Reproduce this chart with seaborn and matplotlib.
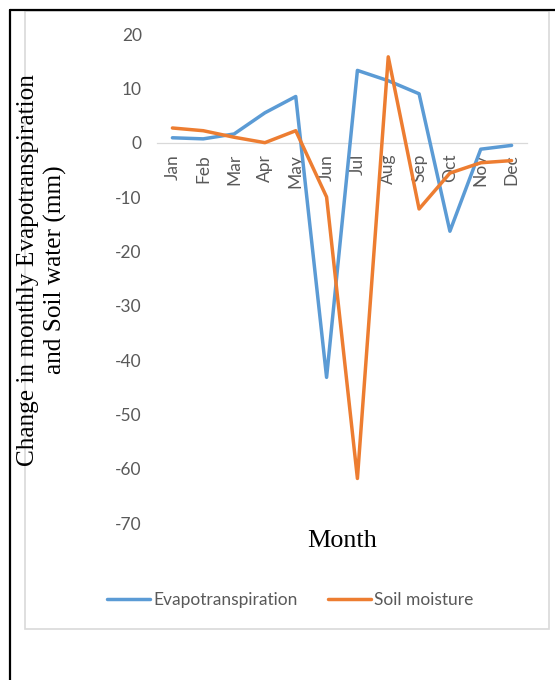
import matplotlib
matplotlib.use("Agg")
import matplotlib.pyplot as plt
from matplotlib.lines import Line2D
from matplotlib.patches import Rectangle
import pandas as pd
import seaborn as sns

months = ["Jan", "Feb", "Mar", "Apr", "May", "Jun",
          "Jul", "Aug", "Sep", "Oct", "Nov", "Dec"]
evapotranspiration = [0.9, 0.7, 1.6, 5.5, 8.5, -43.2,
                      13.3, 11.4, 9.0, -16.3, -1.2, -0.5]
soil_moisture = [2.7, 2.2, 1.0, 0.0, 2.2, -10.0,
                 -61.8, 15.8, -12.2, -5.6, -3.7, -3.3]
y_ticks = [20, 10, 0, -10, -20, -30, -40, -50, -60, -70]

series_names = ["Evapotranspiration", "Soil moisture"]
colors = {"Evapotranspiration": "#5B9BD5", "Soil moisture": "#ED7D31"}

df = pd.DataFrame({
    "Month": months * 2,
    "Value": evapotranspiration + soil_moisture,
    "Series": [series_names[0]] * len(months) + [series_names[1]] * len(months),
})

sns.set_style("white")
plt.rcParams["font.family"] = ["Lato", "DejaVu Sans"]

W, H = 555, 680
fig = plt.figure(figsize=(W / 100, H / 100), dpi=100)
ax = fig.add_axes([157 / W, 1 - 523 / H, (527 - 157) / W, (523 - 34) / H])

sns.lineplot(data=df, x="Month", y="Value", hue="Series", palette=colors,
             linewidth=2.5, sort=False, ax=ax, legend=False)

ax.set_xlim(-0.5, len(months) - 0.5)
ax.set_ylim(-70, 20)
ax.set_yticks(y_ticks)
ax.set_yticklabels([str(t) for t in y_ticks])
ax.set_xticks(range(len(months)))
ax.set_xticklabels(months)

for side in ["left", "right", "top"]:
    ax.spines[side].set_visible(False)
ax.spines["bottom"].set_position(("data", 0))
ax.spines["bottom"].set_color("#D9D9D9")
ax.spines["bottom"].set_linewidth(0.9)
ax.spines["bottom"].set_zorder(0.4)

ax.tick_params(axis="x", length=0, pad=8, labelsize=12.5, labelcolor="#595959",
               labelrotation=90)
ax.tick_params(axis="y", length=0, pad=11, labelsize=12.5, labelcolor="#595959")
ax.set_xlabel("")
ax.set_ylabel("")
ax.patch.set_alpha(0)

serif = ["Liberation Serif", "DejaVu Serif"]
fig.text(42 / W, 1 - 270 / H,
         "Change in monthly Evapotranspiration\nand Soil water (mm)",
         rotation=90, ha="center", va="center", fontsize=18.2,
         family=serif, color="black", linespacing=1.3)
fig.text(342 / W, 1 - 541 / H, "Month", ha="center", va="center",
         fontsize=18.8, family=serif, color="black")

handles = [Line2D([], [], color=colors[n], linewidth=2.5) for n in series_names]
fig.legend(handles, series_names, loc="center", bbox_to_anchor=(290 / W, 1 - 600 / H),
           ncol=2, frameon=False, fontsize=12.5, labelcolor="#595959",
           handlelength=2.5, handletextpad=0.15, columnspacing=1.75)

# chart area frame and outer border
fig.add_artist(Rectangle((24.5 / W, 1 - 628.5 / H), (549 - 24.5) / W, (628.5 - 10.5) / H,
                         transform=fig.transFigure, fill=False,
                         edgecolor="#D9D9D9", linewidth=1.2))
fig.add_artist(Line2D([10 / W, 10 / W], [0, 1 - 9.5 / H], transform=fig.transFigure,
                      color="black", linewidth=1.6))
fig.add_artist(Line2D([10 / W, 1], [1 - 9.5 / H, 1 - 9.5 / H], transform=fig.transFigure,
                      color="black", linewidth=1.6))

fig.savefig("out.png", dpi=100)
